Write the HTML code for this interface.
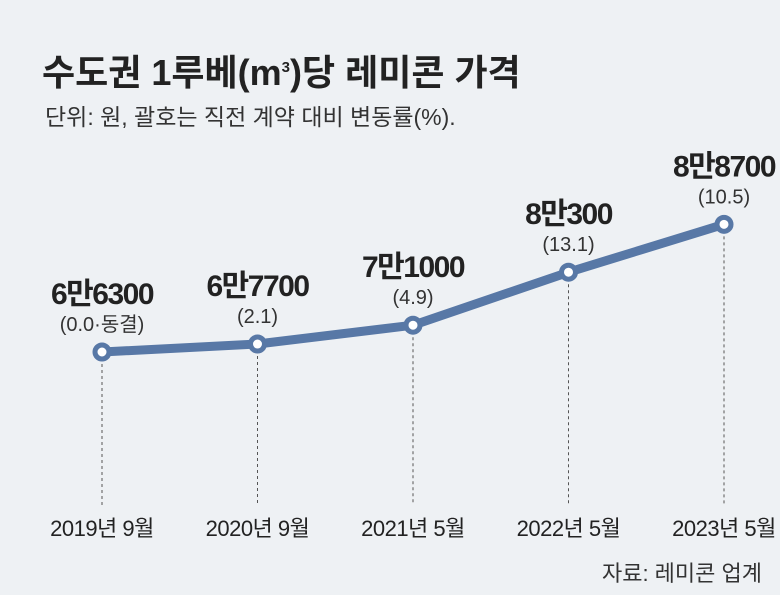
<!DOCTYPE html>
<html><head><meta charset="utf-8"><style>
body{margin:0;width:780px;height:595px;background:#eef1f4;font-family:"Liberation Sans","Noto Sans CJK KR",sans-serif;overflow:hidden;position:relative}
.t{position:absolute;white-space:nowrap}
</style></head><body>
<div class="t" style="left:42px;top:44px;font-size:36px;font-weight:bold;color:#222">수도권 1루베(m<sup style="font-size:15px">3</sup>)당 레미콘 가격</div>
<div class="t" style="left:45px;top:98px;font-size:23px;color:#333">단위: 원, 괄호는 직전 계약 대비 변동률(%).</div>
<div class="t" style="right:18px;top:556px;font-size:22px;color:#333">자료: 레미콘 업계</div>
<svg id="c" width="780" height="595" style="position:absolute;left:0;top:0"></svg>
<script>
const categories=["2019년 9월","2020년 9월","2021년 5월","2022년 5월","2023년 5월"];
const values=[66300,67700,71000,80300,88700];
const valueLabels=["6만6300","6만7700","7만1000","8만300","8만8700"];
const changeLabels=["(0.0·동결)","(2.1)","(4.9)","(13.1)","(10.5)"];
const xs=i=>102+i*155.5;
const ys=v=>352-(v-66300)*0.0057;
const svg=document.getElementById('c');const NS="http://www.w3.org/2000/svg";
function mk(t,a){const e=document.createElementNS(NS,t);for(const k in a)e.setAttribute(k,a[k]);svg.appendChild(e);return e;}
categories.forEach((c,i)=>{
 const d=mk('line',{x1:xs(i),x2:xs(i),y1:ys(values[i]),y2:505,stroke:'#555','stroke-width':1,'stroke-dasharray':'3,3'});
 
 
 const t=mk('text',{x:xs(i),y:536,'text-anchor':'middle','font-size':22,fill:'#222','letter-spacing':'-0.5'});t.textContent=c;
 
 
});
const p=mk('polyline',{points:values.map((v,i)=>xs(i)+','+ys(v)).join(' '),fill:'none',stroke:'#5878a6','stroke-width':9,'stroke-linejoin':'round'});


values.forEach((v,i)=>{
 const c=mk('circle',{cx:xs(i),cy:ys(v),r:7,fill:'#fff',stroke:'#5878a6','stroke-width':5});
 
 
 const a=mk('text',{x:xs(i),y:ys(v)-48,'text-anchor':'middle','font-size':30,'font-weight':'bold',fill:'#222','letter-spacing':'-1.5'});a.textContent=valueLabels[i];
 
 
 const b=mk('text',{x:xs(i),y:ys(v)-21,'text-anchor':'middle','font-size':20,fill:'#333'});b.textContent=changeLabels[i];
 
 
});
</script>
</body></html>
